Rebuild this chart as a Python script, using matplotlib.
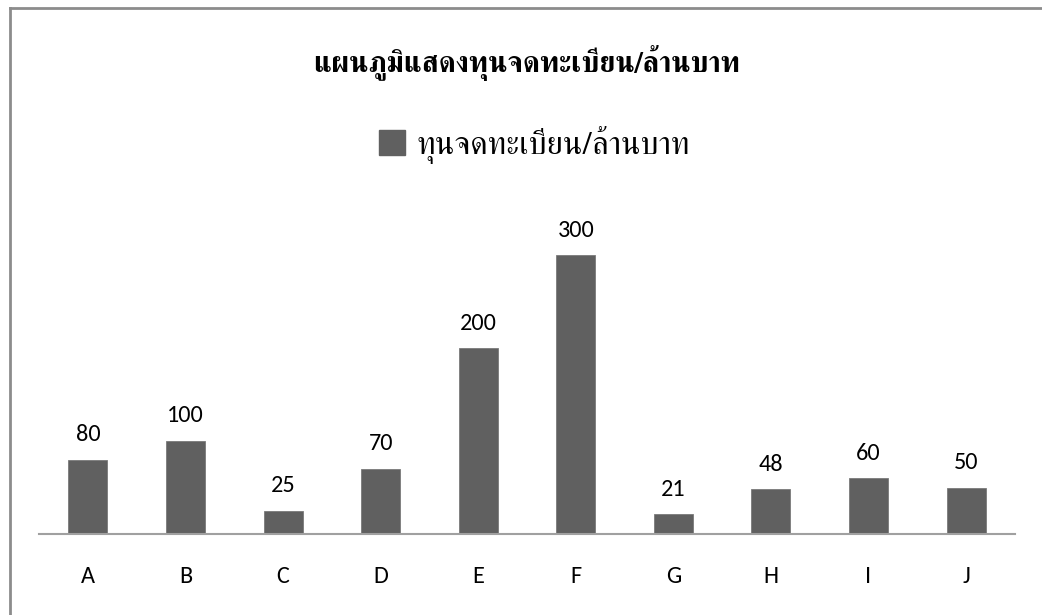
import matplotlib
matplotlib.use("Agg")
import matplotlib.pyplot as plt
from matplotlib.lines import Line2D
from matplotlib.patches import Patch

companies = ['A', 'B', 'C', 'D', 'E', 'F', 'G', 'H', 'I', 'J']
capital = [80, 100, 25, 70, 200, 300, 21, 48, 60, 50]
series_name = 'ทุนจดทะเบียน/ล้านบาท'
chart_title = 'แผนภูมิแสดงทุนจดทะเบียน/ล้านบาท'

thai_font = ['FreeSerif', 'DejaVu Serif']
num_font = ['Carlito', 'Lato', 'DejaVu Sans']
bar_color = '#606060'

fig = plt.figure(figsize=(10.42, 6.15), dpi=100)
ax = fig.add_axes([0.0376, 0.1317, 0.9363, 0.529])

x = range(len(companies))
bars = ax.bar(x, capital, width=0.4, color=bar_color, edgecolor='#7a7a7a', linewidth=0.6)
ax.set_xlim(-0.5, len(companies) - 0.5)
ax.set_ylim(0, 350)

for rect, v in zip(bars, capital):
    ax.annotate(str(v), (rect.get_x() + rect.get_width() / 2, v),
                xytext=(0, 10.5), textcoords='offset points',
                ha='center', va='bottom', fontsize=17.5, family=num_font)

ax.set_xticks(list(x))
ax.set_xticklabels(companies, fontsize=17.5, family=num_font)
ax.tick_params(axis='x', length=0, pad=23)
ax.set_yticks([])
for s in ['top', 'right', 'left']:
    ax.spines[s].set_visible(False)
ax.spines['bottom'].set_color('#a0a0a0')
ax.spines['bottom'].set_linewidth(1.5)

fig.text(0.505, 0.898, chart_title, ha='center', va='center',
         fontsize=20.8, fontweight='bold', family=thai_font)

fig.legend(handles=[Patch(color=bar_color, label=series_name)],
           loc='center', bbox_to_anchor=(0.513, 0.765), frameon=False,
           prop={'family': thai_font, 'size': 23.4},
           handlelength=0.8, handleheight=0.8, handletextpad=0.35)

# chart area outline (only top and left edges show)
fig.add_artist(Line2D([0.0093, 1.0], [0.9878, 0.9878], color='#8c8c8c', lw=2))
fig.add_artist(Line2D([0.0093, 0.0093], [0.0, 0.9878], color='#8c8c8c', lw=2))

fig.savefig('out.png', dpi=100)
